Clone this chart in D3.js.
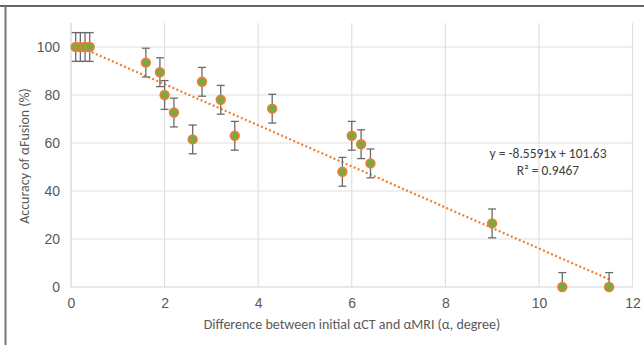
<!DOCTYPE html>
<html>
<head>
<meta charset="utf-8">
<script src="https://cdn.jsdelivr.net/npm/d3@7"></script>
<style>
  body { margin: 0; background: #fff; }
  svg { display: block; font-family: Calibri, Carlito, "Open Sans", sans-serif; }
</style>
</head>
<body>
<svg id="chart"></svg>
<script>
// values
const diffAngle = [0.1, 0.2, 0.3, 0.4, 1.6, 1.9, 2.0, 2.2, 2.6, 2.8, 3.2, 3.5, 4.3, 5.8, 6.0, 6.2, 6.4, 9.0, 10.5, 11.5];
const accuracy  = [100, 100, 100, 100, 93.5, 89.5, 80, 72.7, 61.5, 85.5, 78, 63, 74.3, 48, 63, 59.5, 51.5, 26.5, 0, 0];
const errAmount = 6;
const xTicks = [0, 2, 4, 6, 8, 10, 12];
const yTicks = [0, 20, 40, 60, 80, 100];
const slope = -8.5591, intercept = 101.63;
const eqnText = 'y = -8.5591x + 101.63';
const r2Text = 'R² = 0.9467';

const w = 644, h = 345;
const svg = d3.select('#chart').attr('width', w).attr('height', h);

// frame around the figure (top and left edges visible)
svg.append('line').attr('x1', 0).attr('x2', w).attr('y1', 6).attr('y2', 6)
  .attr('stroke', '#333').attr('stroke-width', 1.5);
svg.append('line').attr('x1', 5.5).attr('x2', 5.5).attr('y1', 6).attr('y2', h)
  .attr('stroke', '#777').attr('stroke-width', 2);

let xScale = d3.scaleLinear().domain([0, 12]).range([71, 632.5]);
let yScale = d3.scaleLinear().domain([0, 110]).range([287, 23]);

// gridlines
svg.append('g').selectAll('line').data(xTicks.slice(1)).enter().append('line')
  .attr('x1', (d) => xScale(d)).attr('x2', (d) => xScale(d))
  .attr('y1', yScale(110)).attr('y2', yScale(0))
  .attr('stroke', '#e0e0e0').attr('stroke-width', 1.2);
svg.append('g').selectAll('line').data(yTicks.slice(1)).enter().append('line')
  .attr('x1', xScale(0)).attr('x2', xScale(12))
  .attr('y1', (d) => yScale(d)).attr('y2', (d) => yScale(d))
  .attr('stroke', '#e0e0e0').attr('stroke-width', 1.2);
// axis lines
svg.append('line').attr('x1', xScale(0)).attr('x2', xScale(12))
  .attr('y1', yScale(0)).attr('y2', yScale(0)).attr('stroke', '#d4d4d4').attr('stroke-width', 1.2);
svg.append('line').attr('x1', xScale(0)).attr('x2', xScale(0))
  .attr('y1', yScale(110)).attr('y2', yScale(0)).attr('stroke', '#d4d4d4').attr('stroke-width', 1.2);

// tick labels through d3 axes
let xAxis = d3.axisBottom(xScale).tickValues(xTicks).tickSize(0).tickPadding(11);
let yAxis = d3.axisLeft(yScale).tickValues(yTicks).tickSize(0).tickPadding(11);
let xAxisGroup = svg.append('g').attr('transform', `translate(0, ${yScale(0)})`).call(xAxis);
let yAxisGroup = svg.append('g').attr('transform', `translate(${xScale(0)}, 0)`).call(yAxis);
[xAxisGroup, yAxisGroup].forEach((g) => {
  g.select('.domain').remove();
  g.selectAll('text').attr('fill', '#595959').style('font-size', '14px');
});

// axis titles
svg.append('text').attr('x', 352).attr('y', 329).attr('text-anchor', 'middle')
  .attr('fill', '#595959').style('font-size', '14px')
  .text('Difference between initial αCT and αMRI (α, degree)');
svg.append('text').attr('transform', 'translate(29, 156) rotate(-90)').attr('text-anchor', 'middle')
  .attr('fill', '#595959').style('font-size', '14px')
  .text('Accuracy of αFusion (%)');

// trendline
let xMin = d3.min(diffAngle), xMax = d3.max(diffAngle);
svg.append('line')
  .attr('x1', xScale(xMin)).attr('y1', yScale(slope * xMin + intercept))
  .attr('x2', xScale(xMax)).attr('y2', yScale(slope * xMax + intercept))
  .attr('stroke', '#ED7D31').attr('stroke-width', 2.2)
  .attr('stroke-dasharray', '2,2.4');

// error bars
let dataset = diffAngle.map((x, i) => ({ x: x, y: accuracy[i] }));
let err = svg.append('g').attr('stroke', '#6b6b6b').attr('stroke-width', 1.3);
dataset.forEach((d) => {
  let top = yScale(d.y + errAmount);
  let bot = yScale(Math.max(0, d.y - errAmount));
  let cx = xScale(d.x);
  err.append('line').attr('x1', cx).attr('x2', cx).attr('y1', top).attr('y2', bot);
  err.append('line').attr('x1', cx - 4).attr('x2', cx + 4).attr('y1', top).attr('y2', top);
  if (d.y - errAmount > 0) {
    err.append('line').attr('x1', cx - 4).attr('x2', cx + 4).attr('y1', bot).attr('y2', bot);
  }
});

// markers
svg.append('g').selectAll('circle').data(dataset).enter().append('circle')
  .attr('cx', (d) => xScale(d.x))
  .attr('cy', (d) => yScale(d.y))
  .attr('r', 4.3)
  .attr('fill', '#70AD47')
  .attr('stroke', '#ED7D31')
  .attr('stroke-width', 1.8);

// trendline label, two separate lines
svg.append('text').attr('x', 548).attr('y', 158).attr('text-anchor', 'middle')
  .attr('fill', '#404040').style('font-size', '13.5px').text(eqnText);
svg.append('text').attr('x', 548).attr('y', 175).attr('text-anchor', 'middle')
  .attr('fill', '#404040').style('font-size', '13.5px').text(r2Text);
</script>
</body>
</html>
